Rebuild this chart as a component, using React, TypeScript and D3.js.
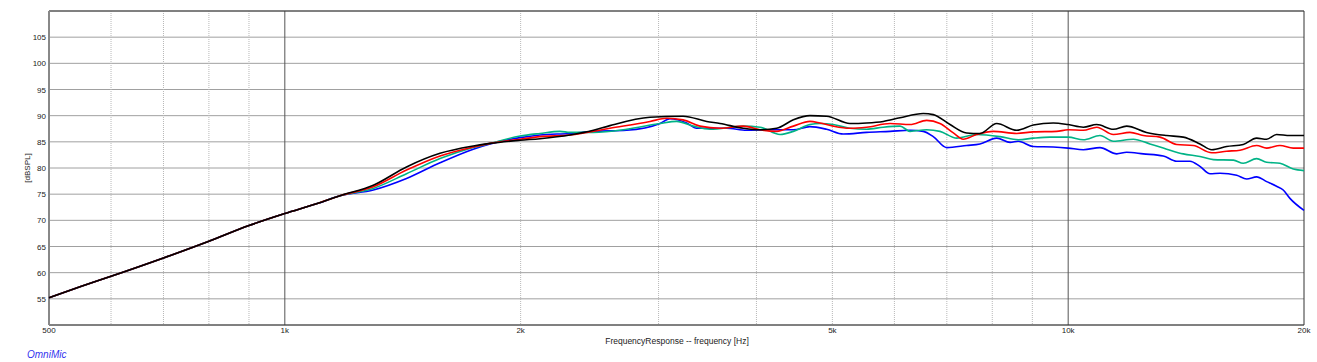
import React from 'react';
import * as d3 from 'd3';

// Frequency response data: [Hz, dBSPL]
const lowShared: [number, number][] = [
  [500, 55.2], [550, 57.4], [600, 59.3], [700, 62.8], [800, 66.0], [900, 69.0],
  [1000, 71.3], [1100, 73.2], [1176, 74.7],
];

const blackPts: [number, number][] = [
  [1297, 76.7], [1430, 80.2], [1578, 82.8], [1740, 84.2], [1828, 84.7], [1997, 85.3],
  [2117, 85.6], [2312, 86.3], [2477, 87.2], [2600, 88.1], [2925, 89.7], [3224, 89.9],
  [3456, 88.9], [3594, 88.5], [3848, 87.6], [4042, 87.3], [4245, 87.6], [4458, 89.2],
  [4681, 90.0], [4916, 89.9], [5265, 88.5], [5530, 88.6], [5807, 88.9], [6100, 89.6],
  [6531, 90.4], [6726, 90.2], [7066, 88.3], [7419, 86.7], [7716, 86.6], [8105, 88.5],
  [8596, 87.2], [9026, 88.2], [9571, 88.6], [10000, 88.3], [10455, 87.8], [10875, 88.3],
  [11420, 87.4], [11874, 88.0], [12588, 86.8], [13360, 86.2], [14025, 85.9], [14730, 84.6],
  [15250, 83.5], [15930, 84.1], [16730, 84.5], [17400, 85.7], [17920, 85.5], [18450, 86.4],
  [19190, 86.2], [20000, 86.2],
];

const redPts: [number, number][] = [
  [1297, 76.4], [1430, 79.6], [1578, 82.3], [1740, 84.0], [1828, 84.7], [1997, 85.5],
  [2117, 86.0], [2312, 86.3], [2600, 87.6], [2925, 88.9], [3072, 89.5], [3224, 89.2],
  [3388, 88.0], [3594, 87.6], [3848, 88.0], [4042, 87.3], [4245, 87.0], [4458, 88.0],
  [4681, 88.9], [4821, 88.6], [5014, 88.0], [5265, 87.6], [5530, 87.8], [5924, 88.5],
  [6284, 88.3], [6596, 89.1], [6860, 88.5], [7135, 86.7], [7346, 85.5], [7641, 86.4],
  [8025, 87.0], [8596, 86.6], [9026, 86.9], [9665, 87.0], [10000, 87.3], [10455, 87.2],
  [10875, 87.8], [11420, 86.4], [11990, 86.8], [12470, 86.2], [13095, 85.9], [13755, 84.5],
  [14445, 84.3], [15250, 82.9], [15930, 83.2], [16570, 83.4], [17400, 84.3], [17920, 83.8],
  [18635, 84.3], [19380, 83.8], [20000, 83.8],
];

const greenPts: [number, number][] = [
  [1297, 76.1], [1430, 78.9], [1578, 81.8], [1740, 83.9], [1828, 84.7], [1997, 86.1],
  [2117, 86.6], [2245, 87.0], [2312, 86.8], [2477, 86.8], [2731, 87.4], [3013, 88.5],
  [3164, 88.9], [3322, 88.0], [3490, 87.4], [3848, 88.0], [4042, 87.8], [4288, 86.4],
  [4458, 87.0], [4681, 88.3], [4821, 88.5], [5014, 88.3], [5265, 87.6], [5530, 87.4],
  [5807, 87.8], [6100, 88.0], [6284, 87.0], [6596, 87.3], [6860, 87.0], [7206, 85.7],
  [7641, 86.4], [8183, 86.0], [8640, 85.4], [9026, 85.7], [9480, 85.9], [10000, 85.9],
  [10455, 85.4], [10980, 86.2], [11420, 85.1], [12110, 85.5], [12715, 84.6], [13360, 83.6],
  [14025, 82.7], [14730, 82.2], [15325, 81.6], [16250, 81.5], [16730, 80.9], [17400, 81.8],
  [17920, 81.1], [18635, 80.9], [19380, 79.8], [20000, 79.5],
];

const bluePts: [number, number][] = [
  [1297, 75.8], [1430, 78.0], [1578, 81.0], [1740, 83.6], [1828, 84.6], [1997, 85.8],
  [2117, 86.3], [2312, 86.6], [2477, 87.0], [2731, 87.2], [3013, 88.5], [3102, 89.4],
  [3258, 88.6], [3355, 87.6], [3665, 87.6], [3887, 87.2], [4123, 87.3], [4458, 87.3],
  [4681, 87.9], [4916, 87.4], [5162, 86.5], [5530, 86.8], [5924, 87.0], [6284, 87.2],
  [6531, 87.0], [6726, 86.0], [6995, 83.9], [7419, 84.3], [7716, 84.6], [8105, 85.7],
  [8430, 84.9], [8640, 85.1], [9026, 84.1], [9571, 84.0], [10000, 83.8], [10455, 83.5],
  [10980, 83.9], [11535, 82.7], [11874, 83.0], [12470, 82.7], [13225, 82.3], [13755, 81.3],
  [14305, 81.3], [14730, 80.3], [15175, 78.9], [15625, 79.0], [16410, 78.6], [16900, 77.9],
  [17400, 78.3], [17920, 77.4], [18450, 76.5], [18815, 75.8], [19190, 74.2], [20000, 71.9],
];

const seriesColors = ['#0000ff', '#00b386', '#ff0000', '#000000'];
const seriesData = [bluePts, greenPts, redPts, blackPts];

const yTicks = [55, 60, 65, 70, 75, 80, 85, 90, 95, 100, 105];
const yGrid = [50, 55, 60, 65, 70, 75, 80, 85, 90, 95, 100, 105, 110];
const xLabels: [number, string][] = [
  [500, '500'], [1000, '1k'], [2000, '2k'], [5000, '5k'], [10000, '10k'], [20000, '20k'],
];
const xMajor = [1000, 10000];
const xMinor = [600, 700, 800, 900, 2000, 3000, 4000, 5000, 6000, 7000, 8000, 9000];

const W = 1317;
const H = 362;
const margin = { top: 11, right: 13, bottom: 37, left: 49 };
const font = '"Liberation Sans", Arial, sans-serif';

export default function App() {
  const x = d3.scaleLog().domain([500, 20000]).range([margin.left, W - margin.right]);
  const y = d3.scaleLinear().domain([50, 110]).range([H - margin.bottom, margin.top]);

  const line = d3.line<[number, number]>()
    .x(d => x(d[0]))
    .y(d => y(d[1]))
    .curve(d3.curveMonotoneX);

  const x0 = margin.left;
  const x1 = W - margin.right;
  const y0 = margin.top;
  const y1 = H - margin.bottom;

  return (
    <svg width={W} height={H} style={{ position: 'absolute', left: 0, top: 0, background: '#fff' }}
      fontFamily={font}>
      {/* horizontal grid */}
      {yGrid.map(v => (
        <line key={'h' + v} x1={x0} x2={x1} y1={y(v)} y2={y(v)} stroke="#a0a0a0" strokeWidth={1} />
      ))}
      {/* minor vertical grid */}
      {xMinor.map(f => (
        <line key={'m' + f} x1={x(f)} x2={x(f)} y1={y0} y2={y1}
          stroke="#b8b8b8" strokeWidth={1} strokeDasharray="1,1" />
      ))}
      {/* major vertical grid */}
      {xMajor.map(f => (
        <line key={'M' + f} x1={x(f)} x2={x(f)} y1={y0} y2={y1} stroke="#555" strokeWidth={1} />
      ))}

      {/* frame */}
      <line x1={x0} x2={x1} y1={y0} y2={y0} stroke="#333" strokeWidth={1} />
      <line x1={x0} x2={x1} y1={y1} y2={y1} stroke="#333" strokeWidth={1.2} />
      <line x1={x1} x2={x1} y1={y0} y2={y1} stroke="#333" strokeWidth={1} />
      <line x1={x0} x2={x0} y1={y0} y2={y1} stroke="#888" strokeWidth={2} />

      {/* curves */}
      <g fill="none" strokeWidth={1.6} strokeLinejoin="round">
        {seriesData.map((pts, i) => (
          <path key={i} d={line([...lowShared, ...pts]) || ''} stroke={seriesColors[i]} />
        ))}
      </g>

      {/* y tick labels */}
      {yTicks.map(v => (
        <text key={'yl' + v} x={46} y={y(v) + 3} textAnchor="end" fontSize={8} fill="#222">{v}</text>
      ))}
      {/* x tick labels */}
      {xLabels.map(([f, s]) => (
        <text key={'xl' + f} x={x(f)} y={333} textAnchor="middle" fontSize={8} fill="#222">{s}</text>
      ))}

      <text x={677} y={344} textAnchor="middle" fontSize={8.5} fill="#222">
        FrequencyResponse -- frequency [Hz]
      </text>
      <text transform={`translate(30, ${(y0 + y1) / 2}) rotate(-90)`} textAnchor="middle"
        fontSize={8} fill="#222">[dBSPL]</text>
      <text x={27} y={358} fontSize={10} fontStyle="italic" fill="#3333ee">OmniMic</text>
    </svg>
  );
}
